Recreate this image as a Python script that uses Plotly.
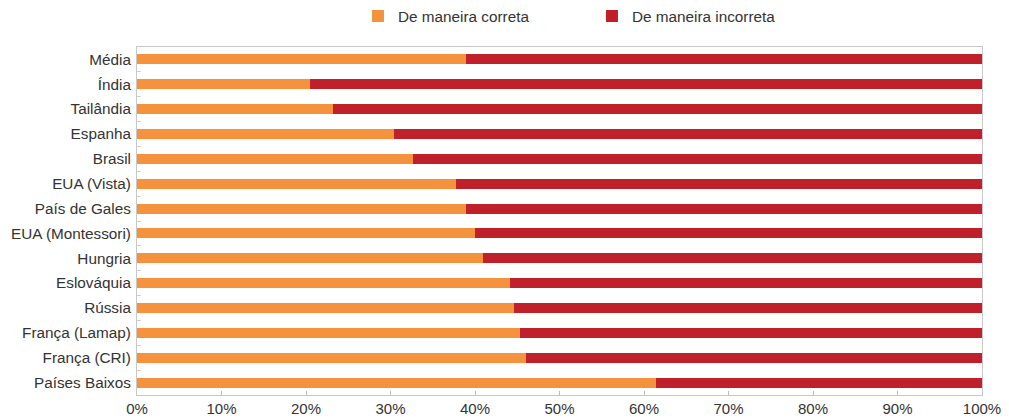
import plotly.graph_objects as go

categories = ["Média", "Índia", "Tailândia", "Espanha", "Brasil", "EUA (Vista)",
              "País de Gales", "EUA (Montessori)", "Hungria", "Eslováquia", "Rússia",
              "França (Lamap)", "França (CRI)", "Países Baixos"]
correta = [38.9, 20.5, 23.2, 30.4, 32.7, 37.8, 38.9, 40.0, 40.9, 44.1, 44.6, 45.3, 46.0, 61.4]
incorreta = [round(100 - v, 1) for v in correta]
tick_vals = [0, 10, 20, 30, 40, 50, 60, 70, 80, 90, 100]
tick_text = [f"{v}%" for v in tick_vals]

FONT = "Liberation Sans, Arial, Helvetica, sans-serif"
TXT = "#333333"

fig = go.Figure()
fig.add_trace(go.Bar(y=categories, x=correta, orientation="h", name="De maneira correta",
                     marker=dict(color="#F5923E", line=dict(width=0)), hoverinfo="x+y"))
fig.add_trace(go.Bar(y=categories, x=incorreta, orientation="h", name="De maneira incorreta",
                     marker=dict(color="#C0202A", line=dict(width=0)), hoverinfo="x+y"))

fig.update_layout(
    width=1009, height=420,
    barmode="stack", bargap=0.6,
    margin=dict(l=137, r=27, t=47, b=25, autoexpand=False),
    paper_bgcolor="white", plot_bgcolor="white",
    font=dict(family=FONT, size=15, color=TXT),
    legend=dict(orientation="h", x=0.2615, y=1.089, xanchor="left", yanchor="middle",
                entrywidth=189, entrywidthmode="pixels",
                font=dict(family=FONT, size=15.3, color=TXT), traceorder="normal",
                itemclick=False, itemdoubleclick=False),
    showlegend=True,
)
fig.update_xaxes(range=[0, 100], tickvals=tick_vals, ticktext=tick_text,
                 showgrid=False, zeroline=False, showline=True, linecolor="#C8C8C8", linewidth=1,
                 mirror=True, ticks="inside", ticklen=4, tickcolor="#BDBDBD",
                 tickfont=dict(family=FONT, size=15, color=TXT), fixedrange=True)
fig.update_yaxes(autorange="reversed", showgrid=False, zeroline=False, showline=True,
                 linecolor="#C8C8C8", linewidth=1, mirror=True, ticks="inside", ticklen=4,
                 tickcolor="#D0D0D0", tickson="boundaries", ticklabelstandoff=2,
                 tickfont=dict(family=FONT, size=15.3, color=TXT), fixedrange=True)

fig.write_html("out.html", config={"displayModeBar": False},
               post_script="document.body.style.margin='0';")
